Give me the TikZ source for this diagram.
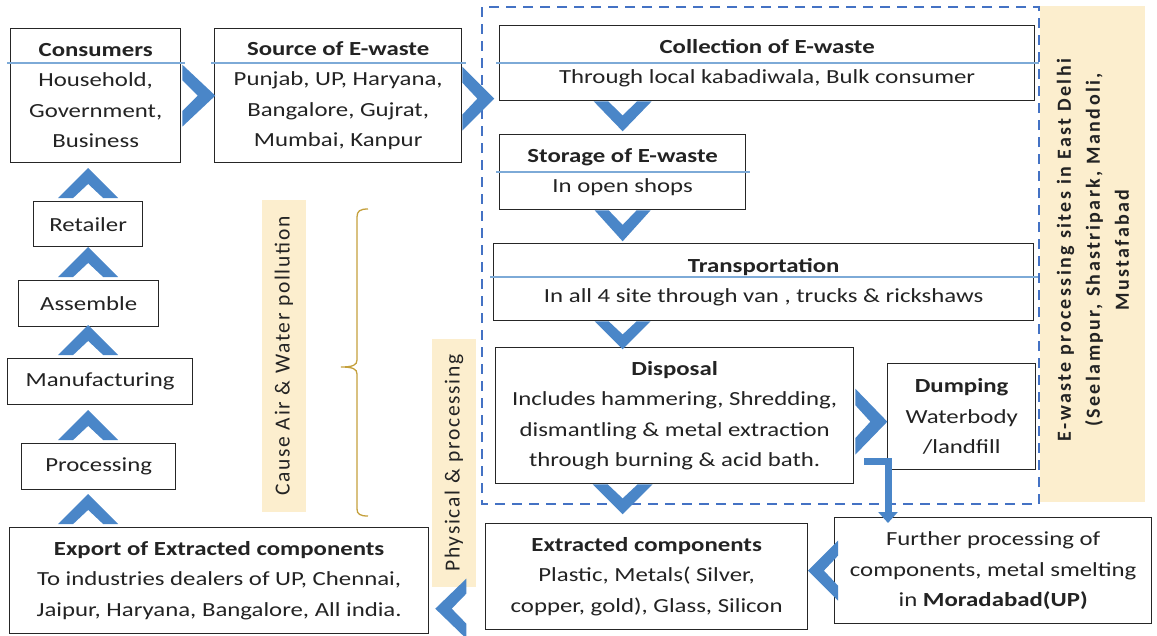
\documentclass[tikz,border=0pt]{standalone}
\usepackage{fontspec}
\setmainfont{Carlito}[FakeStretch=1.24]
\newfontfamily\plainfont{Carlito}[LetterSpace=8]
\newfontfamily\sitefont{Carlito}[LetterSpace=12]
\usetikzlibrary{arrows.meta,calc}

\definecolor{chevblue}{RGB}{74,134,200}
\definecolor{lineblue}{RGB}{125,170,215}
\definecolor{dashblue}{RGB}{68,114,196}
\definecolor{beige}{RGB}{252,238,206}
\definecolor{bracegold}{RGB}{196,160,60}
\definecolor{inktext}{RGB}{35,35,35}

\tikzset{
  box/.style={draw=black!85, line width=1.3pt, fill=white, align=center, inner sep=0pt,
    anchor=north west, text=inktext, font=\fontsize{20}{30.5}\selectfont},
  boxsize/.style 2 args={minimum width=#1pt, minimum height=#2pt},
  divider/.style={lineblue, line width=1.1pt},
  band/.style={fill=beige, rotate=90, inner sep=0pt, text=inktext,
    font=\plainfont\fontsize{21.5}{27}\selectfont},
  sitetext/.style={rotate=90, align=center, inner sep=0pt, text=inktext,
    font=\sitefont\bfseries\fontsize{20}{29}\selectfont},
  pics/chevron/.style 2 args={code={
    \fill[chevblue] (-#1,0) -- (-0.5*#1,0) -- (0,0.47*#2) -- (0.5*#1,0) -- (#1,0) -- (0,#2) -- cycle;}}
}

\begin{document}
\begin{tikzpicture}[x=1pt,y=-1pt]
  \useasboundingbox (0,0) rectangle (1157,635);

  % processing sites in East Delhi
  \draw[dashblue, line width=2.6pt, dash pattern=on 10pt off 7pt] (482,7) rectangle (1039,504);
  \fill[beige] (1040,6) rectangle (1145,502);
  \node[sitetext] (sites) at (1093,250) {E-waste processing sites in East Delhi\\(Seelampur, Shastripark, Mandoli,\\Mustafabad};

  % side notes
  \node[band, minimum width=312pt, minimum height=44pt] (pollution) at (284,356) {Cause Air \& Water pollution};
  \node[band, minimum width=248pt, minimum height=44pt] (physical) at (454,463) {Physical \& processing};
  \draw[bracegold, line width=1.3pt] (368,209) .. controls (360,209) and (357,211) .. (357,217) -- (357,360)
    .. controls (357,365) and (353,367) .. (341,367) .. controls (353,367) and (357,369) .. (357,374)
    -- (357,509) .. controls (357,514) and (360,516) .. (368,516);

  % boxes
  \node[box, boxsize={170}{134}] (consumers) at (10,28) {\textbf{Consumers}\\Household,\\Government,\\Business};
  \node[box, boxsize={247}{134}] (source) at (214,28) {\textbf{Source of E-waste}\\Punjab, UP, Haryana,\\Bangalore, Gujrat,\\Mumbai, Kanpur};
  \node[box, boxsize={535}{75}] (collect) at (499,25) {\textbf{Collection of E-waste}\\Through local kabadiwala, Bulk consumer};
  \node[box, boxsize={246}{75}] (storage) at (499,134) {\textbf{Storage of E-waste}\\In open shops};
  \node[box, boxsize={540}{77}] (transport) at (493,243) {\textbf{Transportation}\\In all 4 site through van , trucks \& rickshaws};
  \node[box, boxsize={358}{136}] (disposal) at (495,347) {\textbf{Disposal}\\Includes hammering, Shredding,\\dismantling \& metal extraction\\through burning \& acid bath.};
  \node[box, boxsize={148}{106}] (dumping) at (887,363) {\textbf{Dumping}\\Waterbody\\/landfill};
  \node[box, boxsize={322}{106}] (extracted) at (485,523) {\textbf{Extracted components}\\Plastic, Metals( Silver,\\copper, gold), Glass, Silicon};
  \node[box, boxsize={317}{106}] (further) at (834,517) {Further processing of\\components, metal smelting\\in \textbf{Moradabad(UP)}};
  \node[box, boxsize={419}{106}] (export) at (9,527) {\textbf{Export of Extracted components}\\To industries dealers of UP, Chennai,\\Jaipur, Haryana, Bangalore, All india.};
  \node[box, boxsize={109}{45}] (retailer) at (33,201) {Retailer};
  \node[box, boxsize={140}{46}] (assemble) at (18,280) {Assemble};
  \node[box, boxsize={185}{46}] (manufact) at (7,358) {Manufacturing};
  \node[box, boxsize={154}{46}] (processing) at (21,443) {Processing};

  \foreach \n/\d in {consumers/35pt, source/35pt, collect/38pt, storage/38pt, transport/34pt}
    \draw[divider] ([xshift=-3pt,yshift=-\d]\n.north west) -- ([xshift=4pt,yshift=-\d]\n.north east);

  % chevrons
  \pic at (collect.south -| storage.north) {chevron={29}{30}};
  \pic at (storage.south) {chevron={28}{31}};
  \pic at (transport.south -| storage.north) {chevron={28}{28}};
  \pic at (disposal.south -| storage.north) {chevron={30}{30}};
  \pic[rotate=90] at ($(consumers.east)+(1,0)$) {chevron={31}{33}};
  \pic[rotate=90] at ($(source.east)+(0,3)$) {chevron={32}{32}};
  \pic[rotate=90] at ($(disposal.east)+(1,6)$) {chevron={33}{32}};
  \pic[rotate=-90] at ($(further.west)+(4,0)$) {chevron={30}{30}};
  \pic[rotate=-90] at ($(export.east)+(37,28)$) {chevron={30}{31}};
  \foreach \n in {retailer, assemble, manufact, processing, export}
    \pic[rotate=180] at ($(\n.north -| retailer.north)+(0,-3)$) {chevron={30}{30}};

  \coordinate (bendstart) at ($(disposal.south east)+(10,-23)$);
  \coordinate (bendend) at ($(further.north west)+(54,6)$);
  \draw[chevblue, line width=7pt, -{Triangle[length=11pt,width=19pt]}] (bendstart) -| (bendend);
\end{tikzpicture}
\end{document}
